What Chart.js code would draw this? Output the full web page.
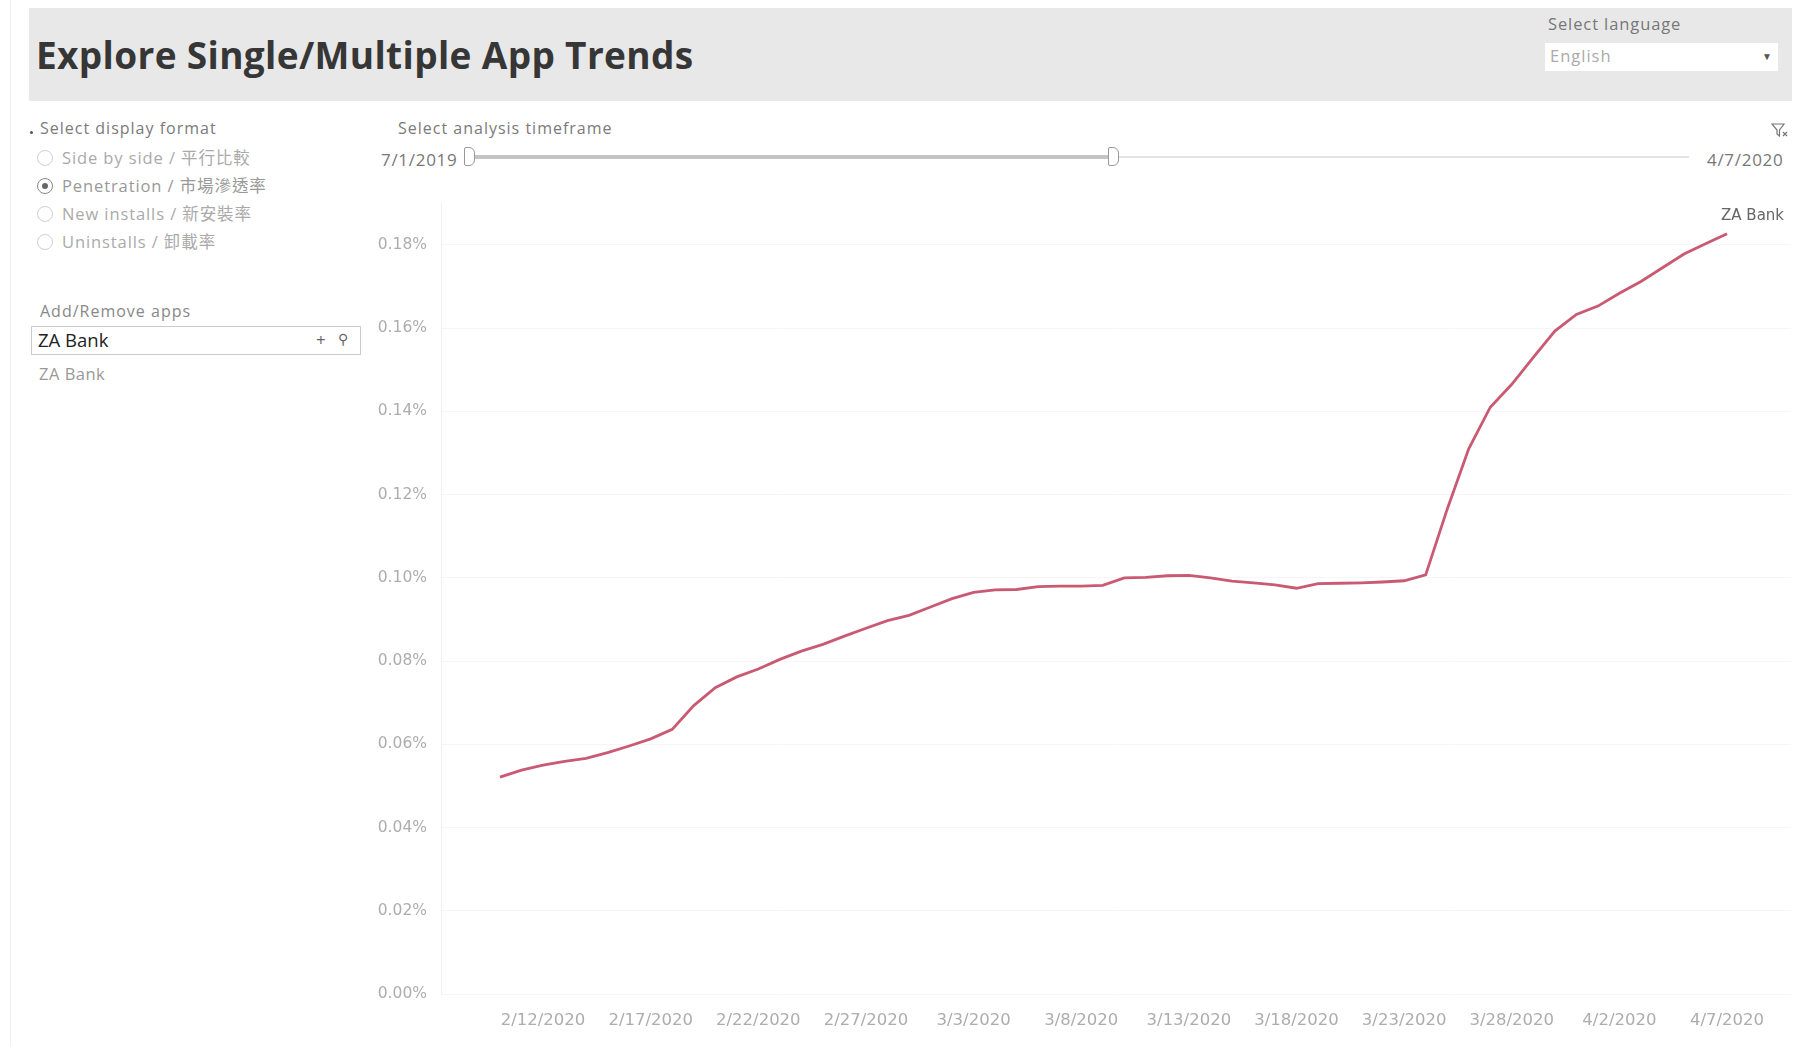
<!DOCTYPE html>
<html>
<head>
<meta charset="utf-8">
<script src="https://cdn.jsdelivr.net/npm/chart.js@4.4.1/dist/chart.umd.min.js"></script>
<style>
  body { margin: 0; width: 1795px; height: 1047px; background: #fff; font-family: "Open Sans", sans-serif; position: relative; overflow: hidden; }
  .abs { position: absolute; white-space: nowrap; line-height: 1; }
  #edge { left: 10px; top: 0; width: 1px; height: 1047px; background: #eee; }
  #header { left: 29px; top: 8px; width: 1763px; height: 93px; background: #e8e8e8; }
  #title { left: 36px; top: 36px; font-size: 37px; font-weight: 700; color: #363636; letter-spacing: 0.35px; }
  #langLbl { left: 1548px; top: 16px; font-size: 16.5px; color: #777; letter-spacing: 0.9px; }
  #langBox { left: 1545px; top: 43px; width: 233px; height: 28px; background: #fff; }
  #langTxt { left: 1550px; top: 48px; font-size: 16.5px; color: #aaa; letter-spacing: 1px; }
  #langArr { left: 1762px; top: 51px; font-size: 10px; color: #555; }
  .lbl { font-size: 16px; color: #7a7a7a; letter-spacing: 1px; }
  .radio { position: absolute; width: 16px; height: 16px; border: 1px solid #d0d0d0; border-radius: 50%; box-sizing: border-box; }
  .radio.on { border-color: #888; }
  .radio.on::after { content: ""; position: absolute; left: 4px; top: 4px; width: 6px; height: 6px; border-radius: 50%; background: #666; }
  .opt { font-size: 16.5px; color: #aaa; letter-spacing: 0.9px; font-family: "Open Sans", "Noto Sans CJK TC", sans-serif; }
  #inBox { left: 31px; top: 326px; width: 330px; height: 29px; border: 1px solid #ccc; box-sizing: border-box; background: #fff; }
  #inTxt { left: 38px; top: 331px; font-size: 18.5px; color: #222; letter-spacing: 0px; }
  #plus { left: 316px; top: 331px; font-size: 17px; color: #666; }
  #mag { left: 338px; top: 332px; font-size: 14px; color: #666; }
  #appItem { left: 39px; top: 366px; font-size: 16.5px; color: #999; letter-spacing: 0.5px; }
  #trackAll { left: 470px; top: 156px; width: 1219px; height: 2px; background: #e4e4e4; }
  #trackSel { left: 470px; top: 155px; width: 644px; height: 4px; background: #c4c4c4; }
  .handle { position: absolute; width: 11px; height: 19px; background: #fff; border: 1.5px solid #999; box-sizing: border-box; border-radius: 2px 6px 6px 2px; }
  .date { font-size: 17px; color: #777; letter-spacing: 0.7px; }
  #chartBox { position: absolute; left: 360px; top: 180px; width: 1435px; height: 867px; }
</style>
</head>
<body>
<div id="edge" class="abs"></div>
<div id="header" class="abs"></div>
<div id="title" class="abs">Explore Single/Multiple App Trends</div>
<div id="langLbl" class="abs">Select language</div>
<div id="langBox" class="abs"></div>
<div id="langTxt" class="abs">English</div>
<div id="langArr" class="abs">&#9660;</div>

<div class="abs" style="left:30px;top:131px;width:3px;height:3px;background:#555;border-radius:50%"></div>
<div class="abs lbl" style="left:40px;top:120px">Select display format</div>
<div class="radio" style="left:37px;top:150px"></div>
<div class="abs opt" style="left:62px;top:150px">Side by side / 平行比較</div>
<div class="radio on" style="left:37px;top:178px"></div>
<div class="abs opt" style="left:62px;top:178px;color:#999">Penetration / 市場滲透率</div>
<div class="radio" style="left:37px;top:206px"></div>
<div class="abs opt" style="left:62px;top:206px">New installs / 新安裝率</div>
<div class="radio" style="left:37px;top:234px"></div>
<div class="abs opt" style="left:62px;top:234px">Uninstalls / 卸載率</div>

<div class="abs lbl" style="left:40px;top:303px;color:#888">Add/Remove apps</div>
<div id="inBox" class="abs"></div>
<div id="inTxt" class="abs">ZA Bank</div>
<div id="plus" class="abs">+</div>
<div id="mag" class="abs">&#9906;</div>
<div id="appItem" class="abs">ZA Bank</div>

<div class="abs lbl" style="left:398px;top:120px">Select analysis timeframe</div>
<div class="abs date" style="left:381px;top:151px">7/1/2019</div>
<div id="trackAll" class="abs"></div>
<div id="trackSel" class="abs"></div>
<div class="handle" style="left:464px;top:147px"></div>
<div class="handle" style="left:1108px;top:147px"></div>
<div class="abs date" style="left:1707px;top:151px">4/7/2020</div>
<svg class="abs" style="left:1771px;top:122px" width="18" height="16" viewBox="0 0 18 16">
  <path d="M1 2 H13 L8.5 8 V14 L6 12 V8 Z" fill="none" stroke="#777" stroke-width="1.2"/>
  <path d="M12 10 L16 14 M16 10 L12 14" stroke="#777" stroke-width="1.2"/>
</svg>

<div id="chartBox"><canvas id="trendChart"></canvas></div>

<script>
const appName = 'ZA Bank';

const dates = [
  '2/10/2020', '2/11/2020', '2/12/2020', '2/13/2020', '2/14/2020', '2/15/2020', '2/16/2020',
  '2/17/2020', '2/18/2020', '2/19/2020', '2/20/2020', '2/21/2020', '2/22/2020', '2/23/2020',
  '2/24/2020', '2/25/2020', '2/26/2020', '2/27/2020', '2/28/2020', '2/29/2020', '3/1/2020',
  '3/2/2020', '3/3/2020', '3/4/2020', '3/5/2020', '3/6/2020', '3/7/2020', '3/8/2020',
  '3/9/2020', '3/10/2020', '3/11/2020', '3/12/2020', '3/13/2020', '3/14/2020', '3/15/2020',
  '3/16/2020', '3/17/2020', '3/18/2020', '3/19/2020', '3/20/2020', '3/21/2020', '3/22/2020',
  '3/23/2020', '3/24/2020', '3/25/2020', '3/26/2020', '3/27/2020', '3/28/2020', '3/29/2020',
  '3/30/2020', '3/31/2020', '4/1/2020', '4/2/2020', '4/3/2020', '4/4/2020', '4/5/2020',
  '4/6/2020', '4/7/2020'
];

// penetration in percent
const penetration = [
  0.0521, 0.0538, 0.0550, 0.0559, 0.0566, 0.0580, 0.0596,
  0.0613, 0.0636, 0.0693, 0.0736, 0.0762, 0.0781, 0.0804,
  0.0824, 0.0840, 0.0860, 0.0879, 0.0897, 0.0910, 0.0930,
  0.0950, 0.0965, 0.0971, 0.0972, 0.0979, 0.0980, 0.0980,
  0.0982, 0.1000, 0.1001, 0.1005, 0.1006, 0.1000, 0.0992,
  0.0988, 0.0983, 0.0975, 0.0986, 0.0987, 0.0988, 0.0990,
  0.0993, 0.1007, 0.1165, 0.1310, 0.1410, 0.1465, 0.1530,
  0.1593, 0.1633, 0.1653, 0.1684, 0.1712, 0.1745, 0.1778,
  0.1803, 0.1827
];

const xTickIdx = [2, 7, 12, 17, 22, 27, 32, 37, 42, 47, 52, 57];
const yTicks = [0, 0.02, 0.04, 0.06, 0.08, 0.10, 0.12, 0.14, 0.16, 0.18];

const endLabel = {
  id: 'endLabel',
  afterDatasetsDraw(chart) {
    const meta = chart.getDatasetMeta(0);
    const pt = meta.data[meta.data.length - 1];
    const c = chart.ctx;
    c.save();
    c.font = '15px "DejaVu Sans"';
    c.fillStyle = '#666';
    c.textBaseline = 'middle';
    c.fillText(appName, pt.x - 6, pt.y - 18);
    c.restore();
  }
};

const ctx = document.getElementById('trendChart').getContext('2d');
new Chart(ctx, {
  type: 'line',
  data: {
    datasets: [{
      label: appName,
      data: penetration.map((v, i) => ({ x: i, y: v })),
      borderColor: '#c95a72',
      borderWidth: 2.8,
      pointRadius: 0,
      tension: 0,
      fill: false,
      clip: false
    }]
  },
  options: {
    responsive: true,
    maintainAspectRatio: false,
    animation: false,
    layout: { padding: { top: 23, right: 4, left: 0, bottom: 0 } },
    plugins: { legend: { display: false }, tooltip: { enabled: false } },
    scales: {
      x: {
        type: 'linear',
        min: -2.74,
        max: 59.97,
        afterBuildTicks: s => { s.ticks = xTickIdx.map(v => ({ value: v })); },
        afterFit: s => { s.height = 53; },
        grid: { display: false },
        border: { display: false },
        ticks: {
          padding: 9,
          maxRotation: 0,
          autoSkip: false,
          color: '#adadad',
          font: { family: 'DejaVu Sans', size: 16.5 },
          callback: v => dates[v]
        }
      },
      y: {
        min: 0,
        max: 0.19,
        afterBuildTicks: s => { s.ticks = yTicks.map(v => ({ value: v })); },
        afterFit: s => { s.width = 81; },
        grid: { color: '#f6f6f6', drawTicks: false },
        border: { color: '#f0f0f0' },
        ticks: {
          padding: 14,
          color: '#adadad',
          font: { family: 'DejaVu Sans', size: 15.5 },
          callback: v => v.toFixed(2) + '%'
        }
      }
    }
  },
  plugins: [endLabel]
});
</script>
</body>
</html>
